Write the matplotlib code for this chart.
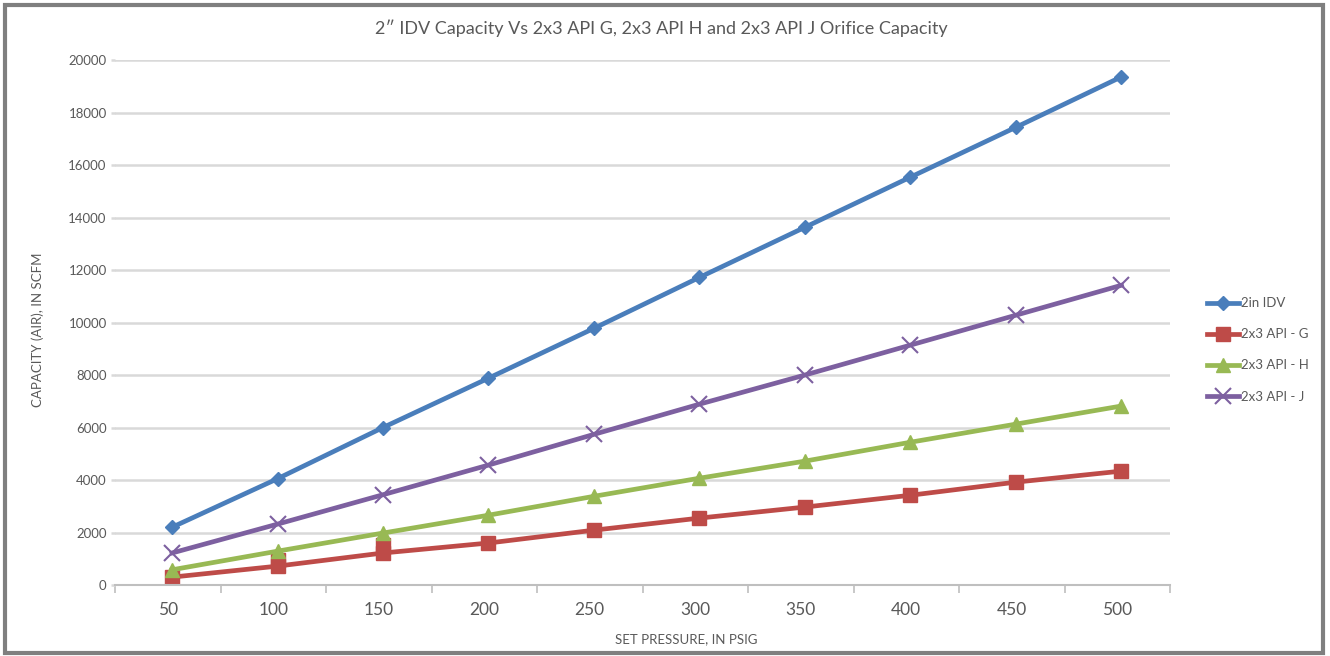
import numpy as np
import matplotlib.pyplot as plt
from matplotlib.patches import Rectangle

plt.rcParams['font.family'] = ['Lato', 'DejaVu Sans']

pressures = ['50', '100', '150', '200', '250', '300', '350', '400', '450', '500']
idv_2in = [2200, 4050, 6000, 7880, 9780, 11720, 13630, 15540, 17440, 19360]
api_g = [300, 720, 1220, 1600, 2090, 2550, 2970, 3420, 3920, 4340]
api_g_extra = [np.nan, 950, 1520, np.nan, np.nan, np.nan, np.nan, np.nan, np.nan, np.nan]
api_h = [580, 1290, 1980, 2660, 3380, 4070, 4720, 5440, 6130, 6820]
api_j = [1220, 2320, 3440, 4570, 5740, 6890, 8000, 9140, 10280, 11420]

text_col = '#595959'
x = np.arange(len(pressures))
xp = x + 0.04  # points sit slightly right of the category centre

fig = plt.figure(figsize=(13.3, 6.56), dpi=100)
fig.patches.append(Rectangle((0.004, 0.005), 0.991, 0.988, transform=fig.transFigure,
                             fill=False, edgecolor='#7f7f7f', linewidth=3))

ax = fig.add_axes([0.0865, 0.1082, 0.7932, 0.8003])

ax.plot(xp, idv_2in, color='#4A7EBB', lw=3.4, marker='D', ms=7, label='2in IDV')
ax.plot(xp, api_g, color='#BE4B48', lw=3.4, marker='s', ms=9.5, label='2x3 API - G')
ax.plot(xp, api_g_extra, color='#BE4B48', lw=0, marker='s', ms=9.5)
ax.plot(xp, api_h, color='#98B954', lw=3.4, marker='^', ms=9.5, label='2x3 API - H')
ax.plot(xp, api_j, color='#7D60A0', lw=3.4, marker='x', ms=11, mew=1.5, label='2x3 API - J')

ax.set_xlim(-0.5, len(pressures) - 0.5)
ax.set_ylim(0, 20000)
ax.set_yticks(range(0, 20001, 2000))
ax.set_xticks(x)
ax.set_xticklabels(pressures, fontsize=12.5, color=text_col)
ax.set_xticks(np.arange(-0.5, len(pressures)), minor=True)
ax.tick_params(axis='x', which='major', length=0, pad=12)
ax.tick_params(axis='x', which='minor', length=6, color='#bfbfbf', width=1.2)
ax.tick_params(axis='y', length=3, color='#d9d9d9', width=1.8,
               labelsize=9.5, labelcolor=text_col, pad=3)

ax.grid(axis='y', color='#d9d9d9', lw=1.8)
ax.set_axisbelow(True)
for s in ['top', 'right', 'left']:
    ax.spines[s].set_visible(False)
ax.spines['bottom'].set_color('#bfbfbf')
ax.spines['bottom'].set_linewidth(1.5)

fig.text(0.516, 0.025, 'SET PRESSURE, IN PSIG', ha='center', va='center',
         fontsize=9.5, color=text_col)
fig.text(0.0285, 0.497, 'CAPACITY (AIR), IN SCFM', ha='center', va='center',
         rotation=90, fontsize=9.5, color=text_col)
fig.text(0.4975, 0.957, '2\u2033 IDV Capacity Vs 2x3 API G, 2x3 API H and 2x3 API J Orifice Capacity',
         ha='center', va='center', fontsize=13, color=text_col)

ax.legend(loc='center left', bbox_to_anchor=(1.03, 0.448), frameon=False, fontsize=9.5,
          labelcolor=text_col, handlelength=2.4, handletextpad=0.2, labelspacing=1.45,
          borderaxespad=0)

fig.savefig('out.png', dpi=100)
